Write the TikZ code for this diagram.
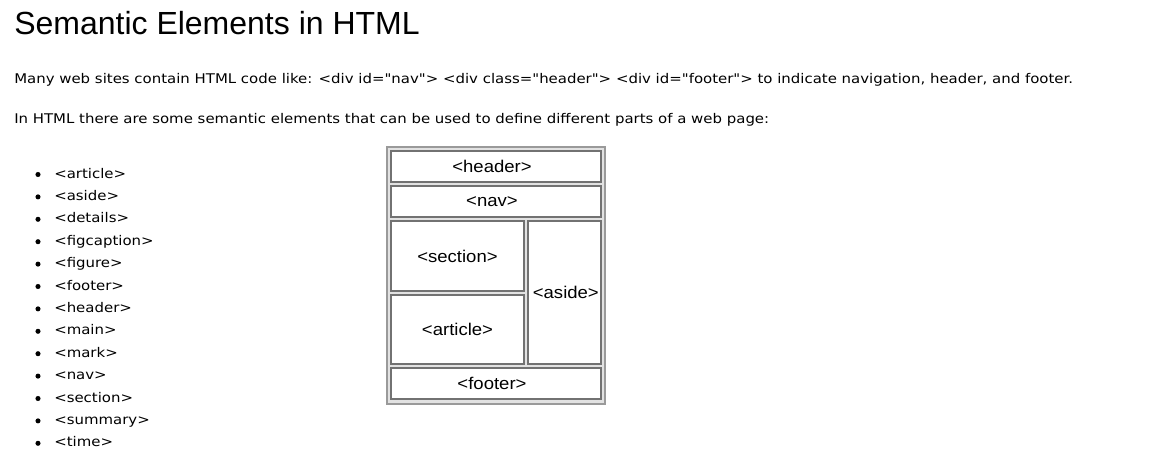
\documentclass[tikz,border=0pt]{standalone}
\usepackage{fontspec}
\newfontfamily\bodyfont{DejaVu Sans}[FakeStretch=1.12]
\newfontfamily\arialfont{Liberation Sans}
\newfontfamily\boxfont{Liberation Sans}[FakeStretch=1.09]
\definecolor{boxline}{HTML}{727272}
\definecolor{frameline}{HTML}{9A9A9A}
\definecolor{framefill}{HTML}{E2E2E2}
\tikzset{
  txt/.style = {anchor=base west, inner sep=0pt, font=\bodyfont\fontsize{10pt}{12pt}\selectfont},
  part/.style = {draw=boxline, line width=1pt, fill=white, inner sep=0pt,
                 font=\boxfont\fontsize{12.75pt}{15pt}\selectfont},
  dot/.style = {fill, circle, inner sep=0pt, minimum size=3.8pt}
}
\begin{document}
\begin{tikzpicture}[x=0.75pt, y=-0.75pt]
      \useasboundingbox (0,0) rectangle (1159,464);
      \node (title) at (14,34) [anchor=base west, inner sep=0pt, font=\arialfont\fontsize{24pt}{28pt}\selectfont] {Semantic Elements in HTML};
      \node (intro) at (14,83) [txt] {Many web sites contain HTML code like: <div id="nav"> <div class="header"> <div id="footer"> to indicate navigation, header, and footer.};
      \node (lead) at (14,123) [txt] {In HTML there are some semantic elements that can be used to define different parts of a web page:};
      % list of elements
      \node (b1) at (38,174.5) [dot] {};\node (i1) at (54,178) [txt] {<article>};
      \node (b2) at (38,196.9) [dot] {};\node (i2) at (54,200.4) [txt] {<aside>};
      \node (b3) at (38,219.3) [dot] {};\node (i3) at (54,222.8) [txt] {<details>};
      \node (b4) at (38,241.7) [dot] {};\node (i4) at (54,245.2) [txt] {<figcaption>};
      \node (b5) at (38,264.1) [dot] {};\node (i5) at (54,267.6) [txt] {<figure>};
      \node (b6) at (38,286.5) [dot] {};\node (i6) at (54,290) [txt] {<footer>};
      \node (b7) at (38,308.9) [dot] {};\node (i7) at (54,312.4) [txt] {<header>};
      \node (b8) at (38,331.3) [dot] {};\node (i8) at (54,334.8) [txt] {<main>};
      \node (b9) at (38,353.7) [dot] {};\node (i9) at (54,357.2) [txt] {<mark>};
      \node (b10) at (38,376.1) [dot] {};\node (i10) at (54,379.6) [txt] {<nav>};
      \node (b11) at (38,398.5) [dot] {};\node (i11) at (54,402) [txt] {<section>};
      \node (b12) at (38,420.9) [dot] {};\node (i12) at (54,424.4) [txt] {<summary>};
      \node (b13) at (38,443.3) [dot] {};\node (i13) at (54,446.8) [txt] {<time>};
      % page layout
      \node (frame) at (496,275.5) [draw=frameline, line width=1.5pt, fill=framefill, minimum width=163.5pt, minimum height=192.75pt] {};
      \node (header) at (496,166.5) [part, minimum width=157.5pt, minimum height=23.25pt] {<header>\kern6pt};
      \node (nav) at (496,201.5) [part, minimum width=157.5pt, minimum height=23.25pt] {<nav>\kern6pt};
      \node (section) at (457.5,256) [part, minimum width=99.75pt, minimum height=52.5pt] {<section>};
      \node (article) at (457.5,329.5) [part, minimum width=99.75pt, minimum height=51.75pt] {<article>};
      \node (aside) at (564.5,292.5) [part, minimum width=54.75pt, minimum height=107.25pt] {\kern2pt<aside>};
      \node (footer) at (496,383.5) [part, minimum width=157.5pt, minimum height=23.25pt] {<footer>\kern6pt};
\end{tikzpicture}
\end{document}
